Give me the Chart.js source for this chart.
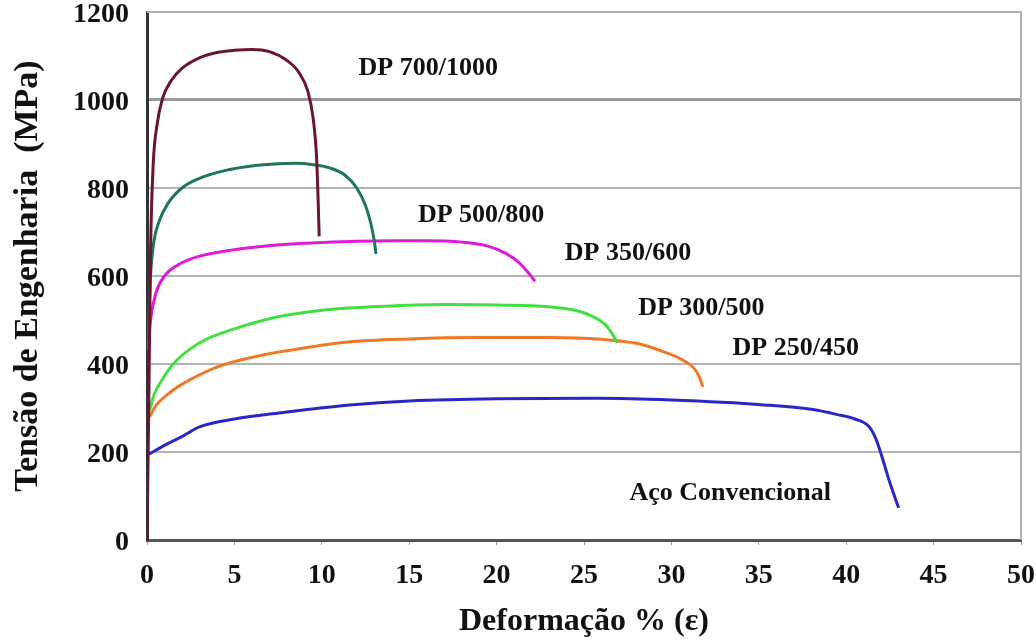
<!DOCTYPE html>
<html>
<head>
<meta charset="utf-8">
<script src="https://cdn.jsdelivr.net/npm/chart.js@4.4.1/dist/chart.umd.min.js"></script>
<style>
  body { margin: 0; background: #fff; }
  #wrap { width: 1036px; height: 640px; }
</style>
</head>
<body>
<div id="wrap"><canvas id="chart" width="1036" height="640"></canvas></div>
<script>
// Curves: strain (%) and engineering stress (MPa)
const dp700X = [0, 0.1, 0.2, 0.35, 0.6, 0.9, 1.4, 2.0, 3.0, 4.0, 5.0, 6.0, 7.0, 8.0, 8.7, 9.2, 9.5, 9.7, 9.8, 9.85];
const dp700Y = [0, 300, 650, 850, 950, 1005, 1045, 1072, 1096, 1108, 1113, 1115, 1110, 1090, 1062, 1020, 960, 870, 760, 690];

const dp500X = [0.05, 0.2, 0.4, 0.7, 1.2, 2.0, 3.0, 4.5, 6.0, 7.5, 8.5, 9.5, 10.5, 11.3, 12.0, 12.5, 12.8, 13.0, 13.1];
const dp500Y = [450, 600, 680, 725, 765, 800, 822, 840, 850, 855, 856, 853, 845, 830, 800, 760, 720, 680, 650];

const dp350X = [0.05, 0.2, 0.5, 1.0, 2.0, 3.0, 4.5, 6.0, 8.0, 10.0, 12.0, 14.0, 16.0, 18.0, 19.5, 20.5, 21.3, 21.8, 22.2];
const dp350Y = [430, 500, 560, 600, 630, 645, 657, 665, 672, 676, 679, 680, 680, 677, 668, 652, 630, 608, 588];

const dp300X = [0.15, 0.4, 0.8, 1.5, 2.5, 3.5, 5.0, 7.0, 9.0, 11.5, 14.0, 17.0, 20.0, 23.0, 24.5, 25.5, 26.2, 26.6, 26.9];
const dp300Y = [295, 330, 360, 400, 435, 458, 480, 503, 517, 527, 532, 535, 534, 530, 522, 508, 490, 470, 448];

const dp250X = [0.15, 0.5, 1.0, 1.5, 2.5, 4.0, 6.0, 8.0, 11.5, 15.0, 19.0, 23.0, 26.0, 28.0, 29.6, 30.6, 31.3, 31.6, 31.8];
const dp250Y = [280, 305, 325, 341, 365, 393, 415, 430, 450, 457, 460, 460, 456, 447, 427, 410, 390, 370, 348];

const acoX = [0.1, 1.0, 2.0, 3.0, 5.0, 7.8, 11.6, 15.0, 20.0, 25.8, 30.0, 35.3, 38.0, 39.5, 40.5, 41.3, 41.7, 42.0, 42.5, 43.0];
const acoY = [195, 215, 235, 257, 275, 290, 307, 316, 321, 322, 318, 307, 297, 285, 275, 258, 230, 195, 130, 73];

const seriesNames = ['DP 700/1000', 'DP 500/800', 'DP 350/600', 'DP 300/500', 'DP 250/450', 'Aço Convencional'];
const seriesColors = ['#6b1530', '#1e7560', '#e01ad8', '#40e040', '#f07828', '#2828c8'];

// where the curve names sit (data coords)
const labelX = [12.1, 15.5, 23.9, 28.1, 33.5, 27.6];
const labelY = [1073, 739, 652, 527, 436, 107];

const xTitle = 'Deformação % (ε)';
const yTitle = 'Tensão de Engenharia  (MPa)';

const serif = '"Liberation Serif", "Times New Roman", serif';

function toPoints(xs, ys) {
    return xs.map((x, i) => ({ x: x, y: ys[i] }));
}

const allX = [dp700X, dp500X, dp350X, dp300X, dp250X, acoX];
const allY = [dp700Y, dp500Y, dp350Y, dp300Y, dp250Y, acoY];

const datasets = seriesNames.map((name, i) => ({
    label: name,
    data: toPoints(allX[i], allY[i]),
    showLine: true,
    borderColor: seriesColors[i],
    backgroundColor: seriesColors[i],
    borderWidth: 3,
    pointRadius: 0,
    cubicInterpolationMode: 'monotone'
}));

// frame on top and right of the plot
const framePlugin = {
    id: 'frame',
    beforeDatasetsDraw(chart) {
        const { ctx, chartArea } = chart;
        ctx.save();
        ctx.strokeStyle = '#b0b0b0';
        ctx.lineWidth = 2;
        ctx.beginPath();
        ctx.moveTo(chartArea.left, chartArea.top);
        ctx.lineTo(chartArea.right, chartArea.top);
        ctx.lineTo(chartArea.right, chartArea.bottom);
        ctx.stroke();
        ctx.restore();
    }
};

// curve names written in the plot
const namesPlugin = {
    id: 'curveNames',
    afterDatasetsDraw(chart) {
        const { ctx, scales } = chart;
        ctx.save();
        ctx.fillStyle = '#111';
        ctx.font = 'bold 26px ' + serif;
        ctx.textAlign = 'left';
        ctx.textBaseline = 'middle';
        seriesNames.forEach((name, i) => {
            ctx.fillText(name, scales.x.getPixelForValue(labelX[i]), scales.y.getPixelForValue(labelY[i]));
        });
        ctx.restore();
    }
};

new Chart(document.getElementById('chart'), {
    type: 'scatter',
    data: { datasets: datasets },
    options: {
        responsive: false,
        animation: false,
        layout: { padding: 0 },
        plugins: {
            legend: { display: false },
            tooltip: { enabled: false }
        },
        scales: {
            x: {
                min: 0,
                max: 50,
                ticks: {
                    stepSize: 5,
                    padding: 14,
                    color: '#111',
                    font: { family: serif, size: 28, weight: 'bold' },
                    callback: v => String(v)
                },
                grid: { drawOnChartArea: false, tickLength: 5, color: '#999' },
                border: { color: '#555', width: 3 },
                title: {
                    display: true,
                    text: xTitle,
                    color: '#111',
                    font: { family: serif, size: 32, weight: 'bold', lineHeight: 1 },
                    padding: { top: 2, bottom: 2 }
                },
                afterFit(scale) {
                    scale.height = 100;
                    scale.paddingLeft = 0;
                    scale.paddingRight = 15;
                }
            },
            y: {
                min: 0,
                max: 1200,
                ticks: {
                    stepSize: 200,
                    padding: 18,
                    labelOffset: 3,
                    color: '#111',
                    font: { family: serif, size: 28, weight: 'bold' },
                    callback: v => String(v)
                },
                grid: {
                    drawTicks: false,
                    color: ctx => ctx.tick && ctx.tick.value === 1000 ? '#9a9a9a' : '#b4b4b4',
                    lineWidth: ctx => ctx.tick && ctx.tick.value === 1000 ? 3 : 2
                },
                border: { color: '#333', width: 3 },
                title: {
                    display: true,
                    text: yTitle,
                    color: '#111',
                    font: { family: serif, size: 34, weight: 'bold', lineHeight: 1 },
                    padding: { top: 11, bottom: 0 }
                },
                afterFit(scale) {
                    scale.width = 147;
                    scale.paddingTop = 12;
                    scale.paddingBottom = 0;
                }
            }
        }
    },
    plugins: [framePlugin, namesPlugin]
});
</script>
</body>
</html>
